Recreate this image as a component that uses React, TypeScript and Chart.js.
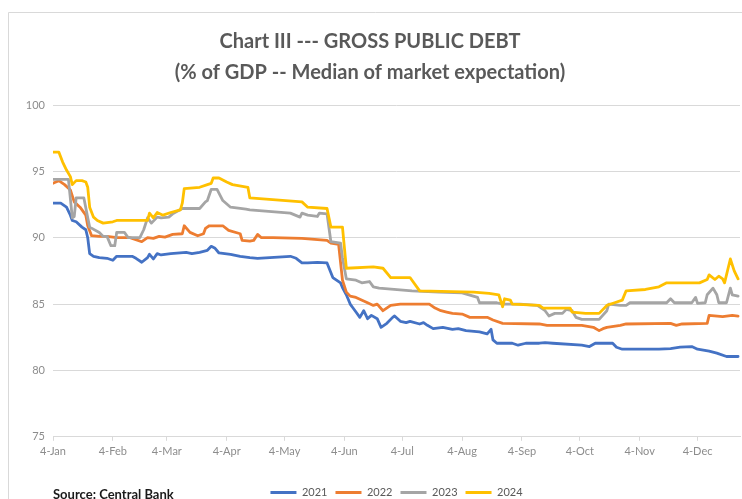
import React, { useEffect, useRef } from "react";
import { Chart, registerables } from "chart.js";

Chart.register(...registerables);

const TITLE_LINES = ["Chart III --- GROSS PUBLIC DEBT", "(% of GDP -- Median of market expectation)"];
const SOURCE_TEXT = "Source: Central Bank";

// x positions are days counted from 4-Jan
const MONTH_TICK_DAYS = [0, 31, 59, 90, 120, 151, 181, 212, 243, 273, 304, 334];
const MONTH_TICK_LABELS = ["4-Jan", "4-Feb", "4-Mar", "4-Apr", "4-May", "4-Jun", "4-Jul", "4-Aug", "4-Sep", "4-Oct", "4-Nov", "4-Dec"];
const X_MAX_DAY = 356;
const Y_MIN = 75;
const Y_MAX = 100;
const Y_STEP = 5;

const SERIES_LABELS = ["2021", "2022", "2023", "2024"];
const SERIES_COLORS = ["#4472C4", "#ED7D31", "#A5A5A5", "#FFC000"];

const days2021 = [0, 4, 7, 9, 10, 12, 15, 17, 18, 19, 21, 24, 28, 31, 33, 41, 43, 46, 49, 50, 52, 54, 56, 61, 69, 72, 76, 80, 82, 84, 86, 92, 97, 102, 106, 123, 126, 129, 132, 137, 142, 145, 149, 150, 152, 154, 155, 157, 159, 161, 163, 165, 168, 170, 173, 176, 177, 180, 183, 185, 190, 192, 194, 197, 202, 207, 210, 214, 221, 225, 227, 228, 230, 238, 241, 245, 252, 255, 259, 274, 278, 281, 290, 292, 295, 314, 320, 325, 331, 334, 340, 344, 349, 355];
const debt2021 = [92.6, 92.6, 92.3, 91.7, 91.3, 91.2, 90.8, 90.6, 90.0, 88.8, 88.6, 88.5, 88.45, 88.3, 88.6, 88.6, 88.45, 88.15, 88.5, 88.75, 88.4, 88.8, 88.7, 88.8, 88.9, 88.8, 88.9, 89.05, 89.35, 89.2, 88.85, 88.75, 88.6, 88.5, 88.45, 88.6, 88.45, 88.1, 88.1, 88.15, 88.1, 87.0, 86.6, 86.25, 85.7, 85.0, 84.8, 84.4, 84.0, 84.5, 83.9, 84.15, 83.9, 83.25, 83.55, 84.0, 84.1, 83.7, 83.6, 83.7, 83.5, 83.6, 83.4, 83.15, 83.25, 83.1, 83.15, 83.0, 82.9, 82.75, 83.1, 82.3, 82.05, 82.05, 81.9, 82.05, 82.05, 82.1, 82.05, 81.9, 81.8, 82.05, 82.05, 81.75, 81.6, 81.6, 81.65, 81.75, 81.8, 81.6, 81.45, 81.3, 81.05, 81.05];

const days2022 = [0, 3, 6, 9, 11, 14, 17, 18, 20, 24, 28, 33, 40, 41, 46, 49, 52, 55, 58, 62, 67, 68, 71, 75, 78, 79, 81, 88, 91, 97, 98, 102, 104, 106, 108, 114, 129, 142, 144, 148, 150, 152, 154, 157, 163, 166, 168, 171, 175, 180, 195, 198, 201, 204, 207, 212, 216, 225, 228, 233, 252, 256, 274, 280, 283, 285, 287, 294, 297, 320, 323, 326, 339, 340, 347, 352, 355];
const debt2022 = [94.1, 94.3, 94.0, 93.6, 92.7, 92.3, 91.7, 90.9, 90.15, 90.1, 90.1, 90.0, 90.0, 89.95, 89.7, 90.0, 89.95, 90.1, 90.05, 90.25, 90.3, 90.9, 90.4, 90.15, 90.3, 90.7, 90.9, 90.9, 90.55, 90.3, 89.8, 89.75, 89.8, 90.25, 90.0, 90.0, 89.95, 89.8, 89.6, 89.5, 86.8, 85.9, 85.6, 85.5, 85.1, 84.9, 85.0, 84.5, 84.9, 85.0, 85.0, 84.7, 84.5, 84.4, 84.3, 84.25, 84.0, 84.0, 83.8, 83.55, 83.5, 83.4, 83.4, 83.25, 83.0, 83.15, 83.25, 83.4, 83.5, 83.55, 83.4, 83.5, 83.55, 84.15, 84.05, 84.15, 84.1];

const days2023 = [0, 8, 10, 11, 12, 16, 18, 19, 24, 26, 28, 30, 32, 33, 37, 39, 45, 47, 49, 51, 54, 56, 60, 62, 67, 76, 79, 80, 82, 85, 88, 92, 100, 102, 123, 128, 129, 132, 137, 138, 142, 144, 149, 150, 152, 157, 160, 164, 166, 169, 186, 200, 212, 220, 221, 230, 233, 242, 251, 255, 257, 260, 264, 266, 269, 271, 274, 283, 287, 288, 294, 297, 299, 318, 320, 322, 331, 333, 334, 338, 339, 342, 344, 345, 349, 351, 352, 355];
const debt2023 = [94.4, 94.4, 91.5, 91.6, 93.0, 93.0, 91.5, 90.8, 90.4, 90.1, 90.1, 89.4, 89.4, 90.4, 90.4, 90.0, 90.0, 90.6, 91.5, 91.1, 91.55, 91.5, 91.55, 91.8, 92.2, 92.2, 92.7, 92.8, 93.65, 93.65, 92.8, 92.3, 92.15, 92.1, 91.85, 91.55, 91.85, 91.7, 91.6, 91.85, 91.8, 89.7, 89.6, 88.5, 86.9, 86.8, 86.6, 86.7, 86.3, 86.2, 86.0, 85.9, 85.85, 85.5, 85.1, 85.1, 85.0, 85.0, 84.9, 84.5, 84.1, 84.3, 84.3, 84.6, 84.5, 84.0, 83.85, 83.85, 84.5, 85.0, 84.9, 84.9, 85.1, 85.1, 85.4, 85.1, 85.1, 85.5, 85.05, 85.1, 85.7, 86.2, 85.7, 85.1, 85.1, 86.2, 85.7, 85.6];

const days2024 = [0, 3, 5, 7, 9, 10, 12, 15, 17, 18, 19, 21, 23, 26, 31, 33, 49, 50, 52, 54, 57, 61, 66, 67, 68, 76, 80, 82, 83, 86, 90, 93, 101, 102, 129, 132, 142, 144, 150, 152, 166, 171, 175, 185, 190, 218, 226, 231, 233, 234, 237, 238, 252, 254, 268, 269, 276, 283, 287, 291, 295, 297, 307, 314, 318, 335, 339, 340, 343, 345, 347, 348, 351, 353, 355];
const debt2024 = [96.45, 96.45, 95.7, 95.1, 94.6, 94.0, 94.3, 94.3, 94.2, 93.8, 92.3, 91.55, 91.3, 91.1, 91.2, 91.3, 91.3, 91.85, 91.5, 91.9, 91.7, 91.9, 92.1, 92.6, 93.7, 93.8, 94.0, 94.1, 94.5, 94.5, 94.2, 94.0, 93.8, 93.0, 92.7, 92.3, 92.2, 90.8, 90.8, 87.7, 87.8, 87.7, 87.0, 87.0, 86.0, 85.9, 85.8, 85.7, 84.8, 85.4, 85.3, 85.0, 84.9, 84.7, 84.7, 84.4, 84.3, 84.3, 84.9, 85.1, 85.3, 86.0, 86.1, 86.3, 86.6, 86.6, 86.85, 87.2, 86.85, 87.1, 86.9, 86.6, 88.4, 87.5, 86.9];

const SERIES_DAYS = [days2021, days2022, days2023, days2024];
const SERIES_VALUES = [debt2021, debt2022, debt2023, debt2024];

const decorPlugin = {
  id: "decor",
  beforeDraw(chart: any) {
    const ctx = chart.ctx;
    ctx.save();
    ctx.fillStyle = "#ffffff";
    ctx.fillRect(0, 0, chart.width, chart.height);
    ctx.strokeStyle = "#d9d9d9";
    ctx.lineWidth = 1;
    ctx.beginPath();
    ctx.moveTo(8.5, chart.height);
    ctx.lineTo(8.5, 12.5);
    ctx.lineTo(chart.width, 12.5);
    ctx.stroke();
    ctx.restore();
  },
  afterDraw(chart: any) {
    const ctx = chart.ctx;
    const legend = chart.legend;
    let y = 494;
    if (legend && legend.legendHitBoxes && legend.legendHitBoxes.length) {
      const hb = legend.legendHitBoxes[0];
      y = hb.top + hb.height / 2 + 2;
    }
    ctx.save();
    ctx.fillStyle = "#1a1a1a";
    ctx.font = "bold 13px Lato";
    ctx.textBaseline = "middle";
    ctx.textAlign = "left";
    ctx.fillText(SOURCE_TEXT, chart.chartArea.left, y);
    ctx.restore();
  },
};

export default function App() {
  const ref = useRef<HTMLCanvasElement | null>(null);

  useEffect(() => {
    document.body.style.margin = "0";
    const canvas = ref.current;
    if (!canvas) return;
    const datasets = SERIES_LABELS.map((label, i) => ({
      label,
      data: SERIES_DAYS[i].map((d, j) => ({ x: d, y: SERIES_VALUES[i][j] })),
      borderColor: SERIES_COLORS[i],
      backgroundColor: SERIES_COLORS[i],
      borderWidth: 2.8,
      pointRadius: 0,
      tension: 0,
      borderJoinStyle: "round" as const,
      borderCapStyle: "round" as const,
      order: SERIES_LABELS.length - i,
    }));

    const chart = new Chart(canvas, {
      type: "line",
      data: { datasets },
      plugins: [decorPlugin],
      options: {
        responsive: false,
        animation: false,
        devicePixelRatio: 1,
        layout: { padding: { top: 0, left: 0, right: 2, bottom: -9 } },
        plugins: {
          title: {
            display: true,
            text: TITLE_LINES,
            color: "#595959",
            font: { family: "Lato", size: 20, weight: "bold", lineHeight: 1.55 },
            padding: { top: 26, bottom: 17 },
          },
          legend: {
            display: true,
            position: "bottom",
            fullSize: false,
            labels: {
              boxWidth: 26,
              boxHeight: 3,
              padding: 8,
              color: "#595959",
              font: { family: "Lato", size: 11 },
              sort: (a: any, b: any) => a.datasetIndex - b.datasetIndex,
              generateLabels: (c: any) =>
                c.data.datasets.map((ds: any, i: number) => ({
                  text: ds.label,
                  fillStyle: ds.borderColor,
                  strokeStyle: ds.borderColor,
                  lineWidth: 0,
                  hidden: false,
                  datasetIndex: i,
                  fontColor: "#595959",
                })),
            },
          },
          tooltip: { enabled: false },
        },
        scales: {
          x: {
            type: "linear",
            min: 0,
            max: X_MAX_DAY,
            afterBuildTicks: (axis: any) => {
              axis.ticks = MONTH_TICK_DAYS.map((v) => ({ value: v }));
            },
            afterFit: (scale: any) => {
              scale.height += 17;
            },
            ticks: {
              autoSkip: false,
              maxRotation: 0,
              padding: 4,
              color: "#8c8c8c",
              font: { family: "Lato", size: 11 },
              callback: (v: any) => {
                const idx = MONTH_TICK_DAYS.indexOf(Number(v));
                return idx >= 0 ? MONTH_TICK_LABELS[idx] : "";
              },
            },
            grid: { display: true, drawOnChartArea: false, drawTicks: true, tickLength: 4, color: "#d9d9d9" },
            border: { display: true, color: "#d9d9d9" },
          },
          y: {
            min: Y_MIN,
            max: Y_MAX,
            ticks: { stepSize: Y_STEP, padding: 8, color: "#8c8c8c", font: { family: "Lato", size: 11 } },
            grid: { color: "#d9d9d9", drawTicks: false },
            border: { display: false },
            afterFit: (scale: any) => {
              scale.width = 53;
            },
          },
        },
      },
    });
    return () => chart.destroy();
  }, []);

  return (
    <div style={{ width: 742, height: 499 }}>
      <canvas ref={ref} width={742} height={499} style={{ display: "block" }} />
    </div>
  );
}
